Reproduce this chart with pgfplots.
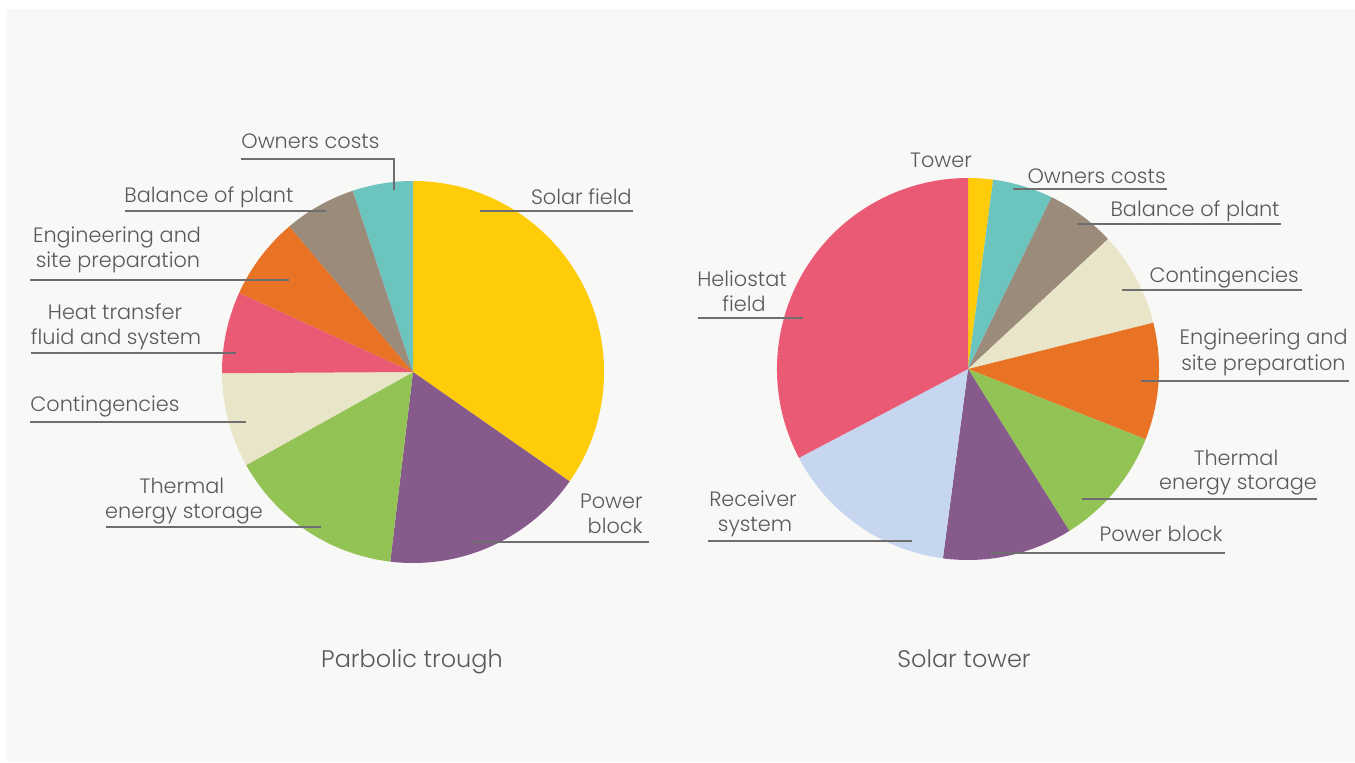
\documentclass[border=0pt]{standalone}
\usepackage{pgfplots}
\usepackage{pgfplotstable}
\pgfplotsset{compat=1.18}
\usepackage{fontspec}
\setmainfont{Poppins}[UprightFont={* Light}]

\definecolor{bgcol}{RGB}{248,248,246}
\definecolor{txtcol}{RGB}{88,89,91}
\definecolor{linecol}{RGB}{110,110,112}
\definecolor{pieyellow}{RGB}{255,204,10}
\definecolor{piepurple}{RGB}{135,90,140}
\definecolor{piegreen}{RGB}{147,194,85}
\definecolor{piecream}{RGB}{232,229,200}
\definecolor{piepink}{RGB}{235,90,117}
\definecolor{pieorange}{RGB}{233,115,36}
\definecolor{pietaupe}{RGB}{155,139,123}
\definecolor{pieteal}{RGB}{108,196,191}
\definecolor{pieblue}{RGB}{198,214,239}

% shares in percent, clockwise from 12 o'clock
\pgfplotstableread[col sep=comma]{
share,colour
34.7,pieyellow
17.2,piepurple
15.0,piegreen
8.0,piecream
6.9,piepink
7.0,pieorange
6.1,pietaupe
5.1,pieteal
}\troughdata

\pgfplotstableread[col sep=comma]{
share,colour
2.1,pieyellow
5.1,pieteal
5.9,pietaupe
8.0,piecream
9.9,pieorange
10.1,piegreen
11.0,piepurple
15.2,pieblue
32.7,piepink
}\towerdata

% #1 table, #2,#3 centre in axis units
\newcommand\drawpie[3]{%
  \pgfplotstablegetrowsof{#1}%
  \pgfmathtruncatemacro\lastrow{\pgfplotsretval-1}%
  \def\angA{90}%
  \pgfplotsforeachungrouped \i in {0,...,\lastrow}{%
    \pgfplotstablegetelem{\i}{share}\of{#1}\let\sliceval\pgfplotsretval
    \pgfplotstablegetelem{\i}{colour}\of{#1}\let\slicecol\pgfplotsretval
    \pgfmathsetmacro\angB{\angA-3.6*\sliceval}%
    \edef\temp{\noexpand\fill[\slicecol] (axis cs:#2,#3) -- ++(\angA:95.5bp)
      arc[start angle=\angA, end angle=\angB, radius=95.5bp] -- cycle;}%
    \temp
    \let\angA\angB
  }%
}

\begin{document}
\begin{tikzpicture}[
    lbl/.style={text=txtcol, font=\fontsize{10.4bp}{12bp}\selectfont, inner sep=0pt},
    ttl/.style={text=txtcol, font=\fontsize{12bp}{14bp}\selectfont, inner sep=0pt},
    lead/.style={draw=linecol, line width=0.7bp},
]
\begin{axis}[
    x=0.5bp, y=0.5bp,
    xmin=0, xmax=1355, ymin=0, ymax=762,
    y dir=reverse,
    hide axis, clip=false,
]
\fill[white] (axis cs:0,0) rectangle (axis cs:1355,762);
\fill[bgcol] (axis cs:6,9) rectangle (axis cs:1355,762);

\drawpie{\troughdata}{413}{372}
\drawpie{\towerdata}{968}{369}

% parabolic trough labels
\draw[lead] (axis cs:241,159) -- (axis cs:394,159) -- (axis cs:394,190);
\node[lbl, anchor=base west] at (axis cs:241,148) {Owners costs};
\draw[lead] (axis cs:125,211) -- (axis cs:326,211);
\node[lbl, anchor=base west] at (axis cs:124,202) {Balance of plant};
\draw[lead] (axis cs:30,280) -- (axis cs:289,280);
\node[lbl, anchor=base] at (axis cs:117,242) {Engineering and};
\node[lbl, anchor=base] at (axis cs:118,267) {site preparation};
\draw[lead] (axis cs:31,353) -- (axis cs:236,353);
\node[lbl, anchor=base] at (axis cs:115,319) {Heat transfer};
\node[lbl, anchor=base] at (axis cs:116,344) {fluid and system};
\draw[lead] (axis cs:30,422) -- (axis cs:246,422);
\node[lbl, anchor=base west] at (axis cs:30,411) {Contingencies};
\draw[lead] (axis cs:106,527) -- (axis cs:321,527);
\node[lbl, anchor=base] at (axis cs:182,493) {Thermal};
\node[lbl, anchor=base] at (axis cs:184,518) {energy storage};
\draw[lead] (axis cs:480,211) -- (axis cs:633,211);
\node[lbl, anchor=base east] at (axis cs:632,204) {Solar field};
\draw[lead] (axis cs:473,542) -- (axis cs:649,542);
\node[lbl, anchor=base east] at (axis cs:643,508) {Power};
\node[lbl, anchor=base east] at (axis cs:643,533) {block};

% solar tower labels
\node[lbl, anchor=base] at (axis cs:941,167) {Tower};
\draw[lead] (axis cs:1013,189) -- (axis cs:1167,189);
\node[lbl, anchor=base east] at (axis cs:1166,183) {Owners costs};
\draw[lead] (axis cs:1077,224) -- (axis cs:1281,224);
\node[lbl, anchor=base east] at (axis cs:1280,216) {Balance of plant};
\draw[lead] (axis cs:1122,290) -- (axis cs:1302,290);
\node[lbl, anchor=base east] at (axis cs:1299,282) {Contingencies};
\draw[lead] (axis cs:1141,381) -- (axis cs:1349,381);
\node[lbl, anchor=base east] at (axis cs:1348,344) {Engineering and};
\node[lbl, anchor=base east] at (axis cs:1346,370) {site preparation};
\draw[lead] (axis cs:1082,499) -- (axis cs:1317,499);
\node[lbl, anchor=base] at (axis cs:1236,465) {Thermal};
\node[lbl, anchor=base] at (axis cs:1238,489) {energy storage};
\draw[lead] (axis cs:991,553) -- (axis cs:1225,553);
\node[lbl, anchor=base east] at (axis cs:1223,541) {Power block};
\draw[lead] (axis cs:698,318) -- (axis cs:803,318);
\node[lbl, anchor=base] at (axis cs:742,286) {Heliostat};
\node[lbl, anchor=base] at (axis cs:744,311) {field};
\draw[lead] (axis cs:708,541) -- (axis cs:912,541);
\node[lbl, anchor=base] at (axis cs:753,506) {Receiver};
\node[lbl, anchor=base] at (axis cs:755,531) {system};

% titles
\node[ttl, anchor=base] at (axis cs:412,667) {Parbolic trough};
\node[ttl, anchor=base] at (axis cs:964,667) {Solar tower};
\end{axis}
\end{tikzpicture}
\end{document}
